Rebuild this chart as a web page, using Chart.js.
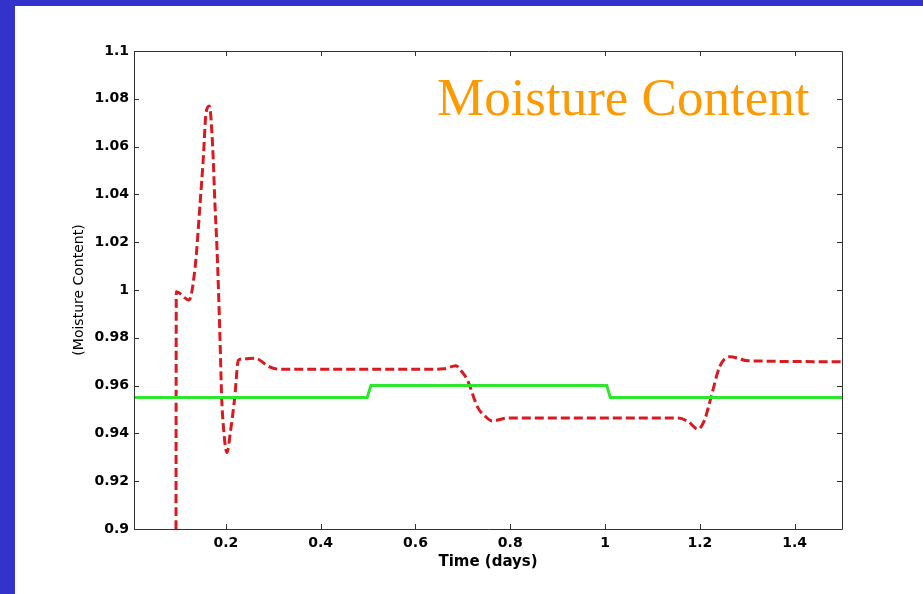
<!DOCTYPE html>
<html>
<head>
<meta charset="utf-8">
<script src="https://cdn.jsdelivr.net/npm/chart.js@4.4.0/dist/chart.umd.min.js"></script>
<style>
body { margin: 0; background: #3333cc; }
#frame { position: absolute; left: 0; top: 0; width: 923px; height: 594px; background: #3333cc; overflow: hidden; }
#sheet { position: absolute; left: 15px; top: 6px; width: 908px; height: 588px; background: #ffffff; }
#chart { position: absolute; left: 0; top: 0; }
#title { position: absolute; left: 422px; top: 65px; font-family: "Liberation Serif", "Times New Roman", serif; font-size: 53px; line-height: 53px; color: #ff9900; white-space: nowrap; }
</style>
</head>
<body>
<div id="frame">
  <div id="sheet">
    <canvas id="chart" width="908" height="588"></canvas>
    <div id="title">Moisture Content</div>
  </div>
</div>
<script>
// measured series (time in days, moisture content)
let redTime  = [0.0946, 0.0952, 0.122, 0.135, 0.146, 0.152, 0.158, 0.165, 0.172, 0.177, 0.181, 0.187, 0.191, 0.1946, 0.202, 0.210, 0.2185, 0.2264, 0.240, 0.262, 0.290, 0.3146, 0.600, 0.660, 0.685, 0.697, 0.7096, 0.731, 0.748, 0.762, 0.794, 1.154, 1.175, 1.196, 1.210, 1.224, 1.242, 1.263, 1.302, 1.500];
let redValue = [0.900, 0.9993, 0.9958, 1.0096, 1.0377, 1.0544, 1.074, 1.077, 1.060, 1.035, 1.018, 0.983, 0.955, 0.943, 0.932, 0.9414, 0.955, 0.9707, 0.9712, 0.9714, 0.968, 0.9668, 0.9668, 0.967, 0.9683, 0.966, 0.9623, 0.951, 0.947, 0.9452, 0.9464, 0.9464, 0.945, 0.9418, 0.9456, 0.9554, 0.968, 0.9721, 0.9704, 0.970];

let greenTime  = [0.006, 0.498, 0.506, 1.0036, 1.011, 1.500];
let greenValue = [0.955, 0.955, 0.960, 0.960, 0.955, 0.955];

let xTickValues = [0.2, 0.4, 0.6, 0.8, 1.0, 1.2, 1.4];
let xTickLabels = ["0.2", "0.4", "0.6", "0.8", "1", "1.2", "1.4"];
let yTickValues = [0.9, 0.92, 0.94, 0.96, 0.98, 1.0, 1.02, 1.04, 1.06, 1.08, 1.1];
let yTickLabels = ["0.9", "0.92", "0.94", "0.96", "0.98", "1", "1.02", "1.04", "1.06", "1.08", "1.1"];

function toPoints(xs, ys) {
	let pts = [];
	for (let i = 0; i < xs.length; i++) {
		pts.push({x: xs[i], y: ys[i]});
	}
	return pts;
}

// matlab style box with inward ticks
let boxPlugin = {
	id: 'box',
	afterDraw: function (chart) {
		let ctx = chart.ctx;
		let a = chart.chartArea;
		let xs = chart.scales.x;
		let ys = chart.scales.y;
		let len = 5;
		ctx.save();
		ctx.strokeStyle = '#333333';
		ctx.lineWidth = 1;
		ctx.beginPath();
		ctx.rect(Math.round(a.left) + 0.5, Math.round(a.top) + 0.5, Math.round(a.right - a.left), Math.round(a.bottom - a.top));
		for (let i = 0; i < xTickValues.length; i++) {
			let px = Math.round(xs.getPixelForValue(xTickValues[i])) + 0.5;
			ctx.moveTo(px, a.bottom);
			ctx.lineTo(px, a.bottom - len);
			ctx.moveTo(px, a.top);
			ctx.lineTo(px, a.top + len);
		}
		for (let i = 0; i < yTickValues.length; i++) {
			let py = Math.round(ys.getPixelForValue(yTickValues[i])) + 0.5;
			ctx.moveTo(a.left, py);
			ctx.lineTo(a.left + len, py);
			ctx.moveTo(a.right, py);
			ctx.lineTo(a.right - len, py);
		}
		ctx.stroke();
		ctx.restore();
	}
};

new Chart(document.getElementById("chart"), {
	type: 'line',
	data: {
		datasets: [
		{
			label: "Moisture (model)",
			data: toPoints(greenTime, greenValue),
			borderColor: '#2ee62e',
			borderWidth: 3,
			pointRadius: 0,
			tension: 0,
			fill: false
		},
		{
			label: "Moisture (measured)",
			data: toPoints(redTime, redValue),
			borderColor: '#d91a1f',
			borderWidth: 3,
			borderDash: [9, 4],
			pointRadius: 0,
			cubicInterpolationMode: 'monotone',
			fill: false
		}
		]
	},
	options: {
		responsive: false,
		animation: false,
		devicePixelRatio: 1,
		layout: { padding: { left: 0, right: 81, top: 45, bottom: 0 } },
		plugins: {
			legend: { display: false },
			tooltip: { enabled: false }
		},
		scales: {
			x: {
				type: 'linear',
				min: 0.006,
				max: 1.5,
				grid: { display: false, drawTicks: false },
				border: { display: false },
				afterBuildTicks: function (scale) {
					scale.ticks = xTickValues.map(function (v) { return {value: v}; });
				},
				afterFit: function (scale) { scale.height = 65; },
				ticks: {
					padding: 6,
					color: '#000',
					font: { family: 'DejaVu Sans', size: 14, weight: 'bold' },
					callback: function (v, i) { return xTickLabels[i]; }
				},
				title: {
					display: true,
					text: 'Time (days)',
					color: '#000',
					padding: { top: 4, bottom: 23 },
					font: { family: 'DejaVu Sans', size: 15, weight: 'bold' }
				}
			},
			y: {
				type: 'linear',
				min: 0.9,
				max: 1.1,
				grid: { display: false, drawTicks: false },
				border: { display: false },
				afterBuildTicks: function (scale) {
					scale.ticks = yTickValues.map(function (v) { return {value: v}; });
				},
				afterFit: function (scale) { scale.width = 119; },
				ticks: {
					padding: 5,
					color: '#000',
					font: { family: 'DejaVu Sans', size: 14, weight: 'bold' },
					callback: function (v, i) { return yTickLabels[i]; }
				},
				title: {
					display: true,
					text: '(Moisture Content)',
					color: '#000',
					padding: { top: 56, bottom: 0 },
					font: { family: 'DejaVu Sans', size: 14 }
				}
			}
		}
	},
	plugins: [boxPlugin]
});
</script>
</body>
</html>
